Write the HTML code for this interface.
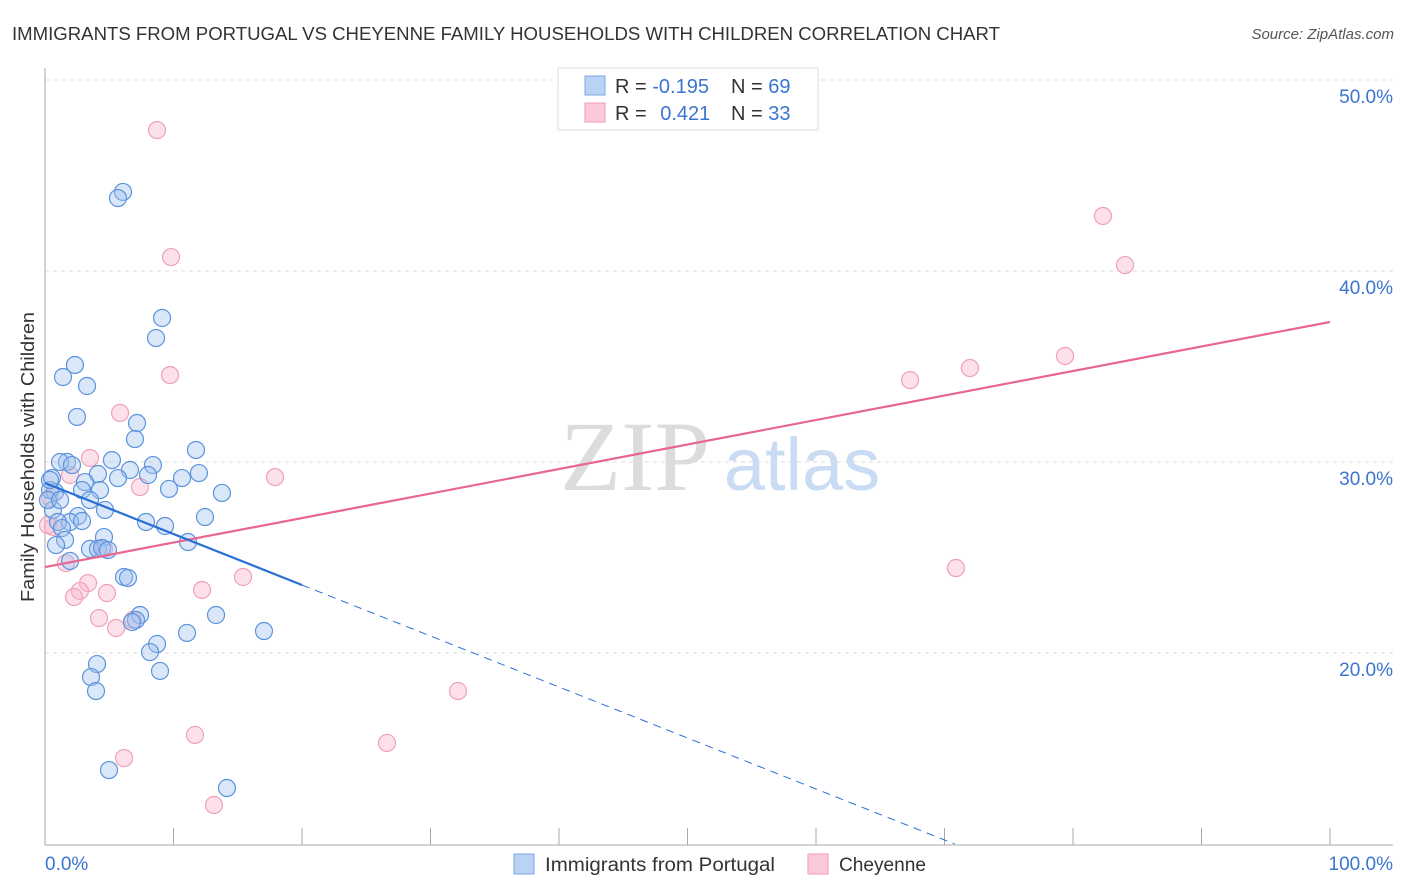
<!DOCTYPE html>
<html><head><meta charset="utf-8">
<style>
body{margin:0;background:#fff;font-family:"Liberation Sans",sans-serif;}
#wrap{position:relative;width:1406px;height:892px;overflow:hidden;}
</style></head>
<body>
<div id="wrap">
<svg id="chart" width="1406" height="892" xmlns="http://www.w3.org/2000/svg">
<text x="12" y="40" font-size="18" fill="#333" textLength="988" lengthAdjust="spacingAndGlyphs">IMMIGRANTS FROM PORTUGAL VS CHEYENNE FAMILY HOUSEHOLDS WITH CHILDREN CORRELATION CHART</text>
<text x="1394" y="39" font-size="15" fill="#555" font-style="italic" text-anchor="end">Source: ZipAtlas.com</text>
<text x="34" y="457" font-size="18" fill="#333" text-anchor="middle" transform="rotate(-90 34 457)" textLength="290" lengthAdjust="spacingAndGlyphs">Family Households with Children</text>
<g>
<text x="635" y="490" font-size="100" fill="#dcdcdc" font-family="Liberation Serif,serif" text-anchor="middle">ZIP</text>
<text x="802" y="490" font-size="74" fill="#c9dcf3" text-anchor="middle">atlas</text>
</g>
<g id="grid"></g>
<g id="axes"></g>
<g id="marks"></g>
<g>
<rect x="558" y="68" width="260" height="62" fill="#fff" stroke="#ddd"/>
<rect x="585" y="76" width="20" height="19" fill="#b9d3f5" stroke="#7aa7e6"/>
<rect x="585" y="103" width="20" height="19" fill="#fbcad8" stroke="#f09ab4"/>
<text x="615" y="93" font-size="20" fill="#333">R = <tspan fill="#3b74d1">-0.195</tspan></text>
<text x="731" y="93" font-size="20" fill="#333">N = <tspan fill="#3b74d1">69</tspan></text>
<text x="615" y="120" font-size="20" fill="#333">R = <tspan fill="#3b74d1" dx="8">0.421</tspan></text>
<text x="731" y="120" font-size="20" fill="#333">N = <tspan fill="#3b74d1">33</tspan></text>
</g>
<g>
<rect x="514" y="854" width="20" height="20" fill="#b9d3f5" stroke="#7aa7e6"/>
<text x="545" y="871" font-size="19" fill="#333" textLength="230" lengthAdjust="spacingAndGlyphs">Immigrants from Portugal</text>
<rect x="808" y="854" width="20" height="20" fill="#fbcad8" stroke="#f09ab4"/>
<text x="839" y="871" font-size="19" fill="#333" textLength="87" lengthAdjust="spacingAndGlyphs">Cheyenne</text>
</g>
</svg>
</div>
<script>
const blueX=[6.07,5.68,9.11,8.64,2.33,1.40,3.27,2.49,7.16,7.00,11.75,1.71,5.21,1.17,2.10,8.40,6.61,11.98,10.66,5.68,4.12,0.54,8.02,3.11,2.88,4.28,9.65,13.77,0.78,0.39,3.50,0.62,4.67,2.57,12.45,1.95,1.01,1.32,2.88,7.86,9.34,4.59,1.56,0.86,11.13,3.50,4.12,4.44,1.95,6.15,6.46,7.39,13.31,7.08,8.72,11.05,17.04,8.17,8.95,4.05,3.58,3.97,4.98,14.16,0.39,0.23,1.17,4.90,6.77];
const blueY=[44.14,43.82,37.54,36.49,35.08,34.45,33.98,32.36,32.04,31.20,30.63,30.00,30.10,30.00,29.84,29.84,29.58,29.42,29.16,29.16,29.37,29.16,29.32,28.95,28.53,28.53,28.59,28.38,28.43,28.53,28.01,27.49,27.49,27.17,27.12,26.86,26.86,26.54,26.91,26.86,26.65,26.07,25.92,25.65,25.81,25.45,25.45,25.50,24.82,23.98,23.93,21.99,21.99,21.73,20.47,21.05,21.15,20.05,19.06,19.42,18.74,18.01,13.87,12.93,29.06,28.01,28.01,25.39,21.62];
const pinkX=[8.72,9.81,82.33,84.05,9.73,5.84,3.50,17.90,7.39,0.39,1.95,0.62,0.23,1.63,4.59,67.32,71.98,79.38,70.89,15.41,3.35,2.72,2.26,4.82,12.22,4.20,5.53,6.85,32.14,11.67,26.61,6.15,13.15];
const pinkY=[47.38,40.73,42.88,40.31,34.55,32.57,30.21,29.21,28.69,28.12,29.32,26.60,26.70,24.71,25.45,34.29,34.92,35.55,24.45,23.98,23.66,23.25,22.93,23.14,23.30,21.83,21.31,21.73,18.01,15.71,15.29,14.50,12.04];
const yTicks=[20,30,40,50];
const yTickLabels=["20.0%","30.0%","40.0%","50.0%"];
const blueTrend=[28.9,-0.267];   // intercept, slope
const pinkTrend=[24.5,0.1283];
const NS="http://www.w3.org/2000/svg";
const X=v=>45+v*12.85;
const Y=v=>80+(50-v)*19.1;
function mk(tag,attrs,parent){const e=document.createElementNS(NS,tag);for(const k in attrs)e.setAttribute(k,attrs[k]);parent.appendChild(e);return e;}
const grid=document.getElementById('grid'),axes=document.getElementById('axes'),marks=document.getElementById('marks');
yTicks.forEach((t,i)=>{
  const l=mk('line',{x1:45,x2:1393,y1:Y(t),y2:Y(t),stroke:'#ddd','stroke-dasharray':'4,4'},grid);
  
  
  const tx=mk('text',{x:1393,y:Y(t)+23,'font-size':19,fill:'#3b74d1','text-anchor':'end'},axes);
  tx.textContent=yTickLabels[i];
  
  
});
let a=mk('line',{x1:45,x2:45,y1:68,y2:845,stroke:'#aaa'},axes);


a=mk('line',{x1:45,x2:1393,y1:845,y2:845,stroke:'#aaa'},axes);


for(let i=1;i<=10;i++){
  const t=mk('line',{x1:X(i*10),x2:X(i*10),y1:828,y2:845,stroke:'#aaa'},axes);
  
  
}
let xl=mk('text',{x:45,y:870,'font-size':19,fill:'#3b74d1'},axes);xl.textContent='0.0%';


xl=mk('text',{x:1393,y:870,'font-size':19,fill:'#3b74d1','text-anchor':'end'},axes);xl.textContent='100.0%';


pinkX.forEach((x,i)=>{
  const c=mk('circle',{cx:X(x),cy:Y(pinkY[i]),r:8.5,fill:'rgba(248,180,202,0.4)',stroke:'#f0a0b8','stroke-width':1.2},marks);
  
  
});
blueX.forEach((x,i)=>{
  const c=mk('circle',{cx:X(x),cy:Y(blueY[i]),r:8.5,fill:'rgba(160,196,240,0.4)',stroke:'#5b93dc','stroke-width':1.2},marks);
  
  
});
let tl=mk('line',{x1:X(0),y1:Y(pinkTrend[0]),x2:X(100),y2:Y(pinkTrend[0]+100*pinkTrend[1]),stroke:'#e8668f','stroke-width':2.2},marks);


tl=mk('line',{x1:X(0),y1:Y(blueTrend[0]),x2:X(20),y2:Y(blueTrend[0]+20*blueTrend[1]),stroke:'#2a6fd6','stroke-width':2.2},marks);


const xe=(10-blueTrend[0])/blueTrend[1];
tl=mk('line',{x1:X(20),y1:Y(blueTrend[0]+20*blueTrend[1]),x2:X(xe),y2:Y(10),stroke:'#2a6fd6','stroke-width':1,'stroke-dasharray':'8,6'},marks);


</script>
</body></html>
